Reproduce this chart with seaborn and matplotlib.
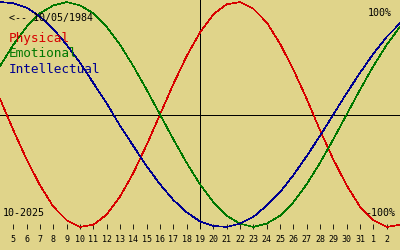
import matplotlib
matplotlib.use("Agg")
import matplotlib.pyplot as plt
import seaborn as sns

# ---- data ----
day_index = list(range(-1, 30))          # -1 = Oct 4 ... 29 = Nov 3
tick_index = list(range(0, 29))          # Oct 5 ... Nov 2
tick_labels = ["5", "6", "7", "8", "9", "10", "11", "12", "13", "14", "15", "16",
               "17", "18", "19", "20", "21", "22", "23", "24", "25", "26", "27",
               "28", "29", "30", "31", "1", "2"]
physical = [0.14, -0.14, -0.40, -0.63, -0.82, -0.94, -1.00, -0.98, -0.89, -0.73,
            -0.52, -0.27, 0.00, 0.27, 0.52, 0.73, 0.89, 0.98, 1.00, 0.94, 0.82,
            0.63, 0.40, 0.14, -0.14, -0.40, -0.63, -0.82, -0.94, -1.00, -0.98]
emotional = [0.43, 0.62, 0.78, 0.90, 0.97, 1.00, 0.97, 0.90, 0.78, 0.62, 0.43,
             0.22, 0.00, -0.22, -0.43, -0.62, -0.78, -0.90, -0.97, -1.00, -0.97,
             -0.90, -0.78, -0.62, -0.43, -0.22, 0.00, 0.22, 0.43, 0.62, 0.78]
intellectual = [1.00, 0.99, 0.95, 0.87, 0.76, 0.62, 0.46, 0.28, 0.10, -0.10,
                -0.28, -0.46, -0.62, -0.76, -0.87, -0.95, -0.99, -1.00, -0.97,
                -0.91, -0.81, -0.69, -0.54, -0.37, -0.19, 0.00, 0.19, 0.37, 0.54,
                0.69, 0.81]
today_index = 14
series_names = ["Physical", "Emotional", "Intellectual"]
birth_label = "<-- 10/05/1984"
month_label = "10-2025"

# ---- style ----
BG = "#e0d48a"
RED = "#d80000"
GREEN = "#007800"
BLUE = "#000090"
W, H = 400, 250

fig = plt.figure(figsize=(4, 2.5), dpi=100, facecolor=BG)
ax = fig.add_axes([0, 21 / H, 1, 229 / H])
ax.set_facecolor(BG)

for vals, col in [(physical, RED), (emotional, GREEN), (intellectual, BLUE)]:
    sns.lineplot(x=day_index, y=vals, color=col, linewidth=0.45, ax=ax,
                 antialiased=False, clip_on=False, zorder=3)

ax.axhline(0, color="black", linewidth=0.6, antialiased=False, zorder=2)
ax.axvline(today_index, color="black", linewidth=0.6, antialiased=False, zorder=2)

ax.set_xlim(-1, 29)
ax.set_ylim(-1.018, 1.018)
for s in ax.spines.values():
    s.set_visible(False)
ax.set_yticks([])
ax.set_xticks(tick_index)
ax.set_xticklabels(tick_labels, family="DejaVu Sans Mono", fontsize=6.0)
ax.tick_params(axis="x", direction="in", length=3.6, width=0.6, color="black",
               pad=4)
ax.set_xlabel("")
ax.set_ylabel("")


def ftext(px, py, s, **kw):
    fig.text(px / W, 1 - py / H, s, family="DejaVu Sans Mono",
             va="baseline", ha="left", **kw)


ftext(9, 20.7, birth_label, fontsize=7.2, color="black")
ftext(9, 42.3, series_names[0], fontsize=9.2, color=RED)
ftext(9, 57.3, series_names[1], fontsize=9.2, color=GREEN)
ftext(9, 72.7, series_names[2], fontsize=9.2, color=BLUE)
ftext(3, 215.7, month_label, fontsize=7.2, color="black")
ftext(368, 16, "100%", fontsize=7.2, color="black")
ftext(365, 215.7, "-100%", fontsize=7.2, color="black")

fig.savefig("out.png", dpi=100, facecolor=BG)
